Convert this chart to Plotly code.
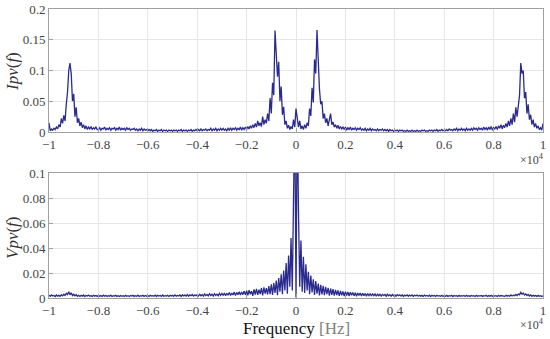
import numpy as np
import plotly.graph_objects as go

# Frequency bins (Hz), 50 Hz spacing
freq_hz = np.arange(-10000, 10001, 50)

# |Ipv(f)| in units of 1e-3 (20 values per 1000 Hz)
ipv_milli = [
    15, 2, 5, 3, 6, 4, 8, 5, 12, 8, 22, 14, 27, 18, 45, 65, 100, 112, 95, 50,
    62, 25, 40, 15, 22, 10, 16, 7, 12, 5, 10, 4, 8, 5, 9, 4, 7, 5, 8, 4,
    4, 7, 3, 6, 5, 8, 3, 6, 4, 7, 3, 6, 5, 7, 3, 6, 4, 8, 3, 6,
    4, 6, 3, 7, 4, 6, 3, 5, 4, 6, 3, 5, 2, 5, 3, 6, 2, 5, 3, 4,
    2, 4, 2, 4, 1, 3, 2, 4, 1, 3, 2, 4, 1, 3, 2, 3, 1, 3, 2, 3,
    1, 3, 2, 3, 1, 3, 2, 4, 1, 3, 2, 3, 1, 3, 2, 4, 1, 3, 2, 4,
    2, 4, 2, 5, 2, 4, 3, 5, 2, 4, 3, 6, 2, 5, 3, 6, 2, 5, 3, 6,
    3, 6, 3, 5, 2, 6, 3, 7, 3, 6, 4, 7, 3, 6, 4, 8, 3, 7, 4, 8,
    4, 9, 5, 10, 6, 12, 7, 14, 8, 18, 10, 15, 9, 25, 12, 20, 14, 30, 18, 55,
    30, 80, 60, 165, 128, 90, 114, 50, 74, 28, 41, 12, 18, 6, 11, 4, 9, 5, 20, 8,
    38,
    22, 8, 18, 5, 10, 4, 12, 6, 15, 10, 38, 26, 72, 48, 118, 95, 166, 100, 70, 45,
    50, 22, 30, 15, 22, 10, 18, 30, 12, 16, 8, 12, 6, 11, 5, 9, 5, 8, 4, 8,
    3, 7, 4, 8, 3, 6, 4, 7, 3, 6, 4, 7, 3, 5, 3, 6, 2, 5, 3, 6,
    2, 5, 3, 4, 2, 5, 2, 4, 3, 5, 2, 4, 2, 4, 1, 4, 2, 3, 1, 3,
    2, 3, 1, 3, 2, 3, 1, 2, 1, 3, 1, 2, 1, 3, 1, 2, 1, 3, 1, 2,
    1, 3, 2, 3, 1, 2, 1, 3, 2, 3, 1, 3, 2, 4, 1, 3, 2, 4, 2, 3,
    2, 4, 2, 5, 3, 4, 2, 5, 3, 6, 2, 5, 3, 6, 3, 5, 2, 6, 3, 5,
    3, 6, 3, 7, 4, 6, 3, 7, 4, 6, 3, 8, 4, 7, 3, 8, 4, 9, 3, 7,
    5, 9, 4, 10, 6, 12, 5, 11, 7, 14, 8, 18, 10, 22, 12, 30, 16, 40, 25, 48,
    60, 112, 95, 100, 55, 65, 30, 45, 20, 28, 12, 20, 8, 14, 6, 10, 4, 7, 3, 14,
]

# |Vpv(f)| in units of 1e-4 (20 values per 1000 Hz)
vpv_e4 = [
    22, 14, 25, 16, 20, 12, 24, 15, 21, 13, 26, 17, 30, 20, 38, 28, 50, 25, 42, 20,
    30, 18, 26, 14, 22, 13, 21, 15, 24, 12, 20, 16, 23, 14, 19, 12, 22, 15, 20, 13,
    21, 14, 19, 12, 23, 15, 20, 13, 18, 14, 22, 12, 19, 15, 21, 13, 18, 12, 20, 14,
    19, 13, 22, 14, 18, 12, 20, 15, 21, 13, 19, 14, 22, 12, 18, 15, 21, 13, 20, 14,
    20, 13, 22, 15, 19, 14, 23, 12, 21, 15, 20, 13, 24, 14, 19, 15, 22, 13, 21, 16,
    22, 14, 25, 15, 21, 16, 24, 13, 26, 17, 23, 15, 27, 14, 25, 18, 28, 16, 24, 19,
    27, 16, 30, 18, 26, 15, 32, 19, 28, 17, 34, 20, 30, 16, 35, 21, 31, 18, 37, 22,
    36, 20, 40, 18, 38, 22, 44, 21, 40, 24, 47, 20, 45, 26, 50, 23, 48, 27, 55, 25,
    58, 22, 62, 30, 55, 18, 68, 28, 72, 25, 66, 32, 80, 20, 85, 35, 78, 28, 95, 30,
    110, 25, 120, 40, 140, 22, 160, 50, 190, 30, 220, 60, 280, 35, 340, 90, 480, 60, 800, 1500,
    5,
    1500, 700, 90, 460, 50, 330, 40, 270, 60, 210, 30, 180, 45, 150, 25, 135, 35, 115, 20, 105,
    28, 98, 22, 90, 30, 82, 18, 76, 26, 70, 20, 64, 24, 60, 17, 56, 22, 52, 16, 50,
    20, 48, 15, 46, 22, 44, 18, 42, 14, 40, 21, 39, 16, 38, 19, 36, 15, 35, 20, 34,
    16, 33, 19, 32, 14, 31, 18, 30, 15, 29, 20, 28, 14, 30, 17, 27, 15, 28, 18, 26,
    14, 27, 18, 25, 15, 26, 13, 24, 17, 25, 14, 23, 16, 24, 13, 22, 17, 23, 14, 22,
    15, 21, 13, 23, 16, 20, 14, 22, 12, 21, 15, 20, 13, 22, 16, 19, 14, 21, 12, 20,
    14, 21, 13, 19, 15, 22, 12, 20, 16, 19, 13, 21, 14, 18, 15, 20, 12, 21, 14, 19,
    13, 20, 15, 18, 12, 21, 14, 19, 16, 20, 13, 18, 15, 21, 12, 19, 14, 22, 13, 20,
    15, 19, 12, 21, 14, 20, 16, 18, 13, 22, 15, 20, 14, 24, 16, 22, 18, 28, 20, 32,
    26, 45, 30, 40, 24, 33, 20, 28, 16, 25, 14, 22, 15, 20, 13, 21, 14, 19, 12, 18,
]

x_tickvals = [-10000, -8000, -6000, -4000, -2000, 0, 2000, 4000, 6000, 8000, 10000]
x_ticktext = ["\u22121", "\u22120.8", "\u22120.6", "\u22120.4", "\u22120.2", "0",
              "0.2", "0.4", "0.6", "0.8", "1"]
ipv_ticks = [0, 0.05, 0.1, 0.15, 0.2]
ipv_ticktext = ["0", "0.05", "0.1", "0.15", "0.2"]
vpv_ticks = [0, 0.02, 0.04, 0.06, 0.08, 0.1]
vpv_ticktext = ["0", "0.02", "0.04", "0.06", "0.08", "0.1"]

ipv = np.array(ipv_milli) * 1e-3
vpv = np.array(vpv_e4) * 1e-4

W, H = 550, 339
LINE = "#2b2b8f"
SERIF = "Times New Roman, Liberation Serif, serif"
TICKC = "#444444"
AXC = "#a0a0a0"

fig = go.Figure()
fig.add_trace(go.Scatter(x=freq_hz, y=ipv, mode="lines",
                         line=dict(color=LINE, width=1.3), xaxis="x", yaxis="y",
                         showlegend=False))
fig.add_trace(go.Scatter(x=freq_hz, y=vpv, mode="lines",
                         line=dict(color=LINE, width=1.3), xaxis="x2", yaxis="y2",
                         showlegend=False))

x0, x1 = 49 / W, 543 / W
common_x = dict(range=[-10000, 10000], tickvals=x_tickvals, ticktext=x_ticktext,
                showgrid=True, gridcolor="#e6e6e6", gridwidth=1, zeroline=False,
                showline=True, mirror=True, linecolor=AXC, linewidth=1,
                ticks="inside", ticklen=4, tickcolor=AXC, automargin=False,
                tickfont=dict(family=SERIF, size=13, color=TICKC),
                domain=[x0, x1])
common_y = dict(showgrid=True, gridcolor="#e6e6e6", gridwidth=1, zeroline=False,
                showline=True, mirror=True, linecolor=AXC, linewidth=1,
                ticks="inside", ticklen=4, tickcolor=AXC, automargin=False,
                tickfont=dict(family=SERIF, size=13, color=TICKC))

fig.update_layout(
    width=W, height=H,
    margin=dict(l=0, r=0, t=0, b=0, pad=0),
    paper_bgcolor="white", plot_bgcolor="white",
    font=dict(family=SERIF),
    xaxis=dict(**common_x, anchor="y"),
    yaxis=dict(**common_y, range=[0, 0.2], tickvals=ipv_ticks, ticktext=ipv_ticktext,
               domain=[1 - 132 / H, 1 - 9 / H], anchor="x"),
    xaxis2=dict(**common_x, anchor="y2"),
    yaxis2=dict(**common_y, range=[0, 0.1], tickvals=vpv_ticks, ticktext=vpv_ticktext,
                domain=[1 - 298 / H, 1 - 173 / H], anchor="x2"),
    annotations=[
        dict(text="<i>Ipv</i>(<i>f</i>)", xref="paper", yref="paper",
             x=12 / W, y=1 - 72 / H, textangle=-90, showarrow=False,
             font=dict(family=SERIF, size=17, color="#333333"),
             xanchor="center", yanchor="middle"),
        dict(text="<i>Vpv</i>(<i>f</i>)", xref="paper", yref="paper",
             x=12 / W, y=1 - 238 / H, textangle=-90, showarrow=False,
             font=dict(family=SERIF, size=17, color="#333333"),
             xanchor="center", yanchor="middle"),
        dict(text="Frequency <span style='color:#808080'>[Hz]</span>",
             xref="paper", yref="paper", x=296 / W, y=1 - 328 / H,
             showarrow=False, font=dict(family=SERIF, size=17, color="#111111"),
             xanchor="center", yanchor="middle"),
        dict(text="\u00d710<sup>4</sup>", xref="paper", yref="paper",
             x=546 / W, y=1 - 159 / H, showarrow=False,
             font=dict(family=SERIF, size=12, color=TICKC),
             xanchor="right", yanchor="middle"),
        dict(text="\u00d710<sup>4</sup>", xref="paper", yref="paper",
             x=546 / W, y=1 - 324 / H, showarrow=False,
             font=dict(family=SERIF, size=12, color=TICKC),
             xanchor="right", yanchor="middle"),
    ],
)

fig.write_html("out.html", config={"displayModeBar": False},
               post_script="document.body.style.margin='0';"
                           "document.body.style.overflow='hidden';")
